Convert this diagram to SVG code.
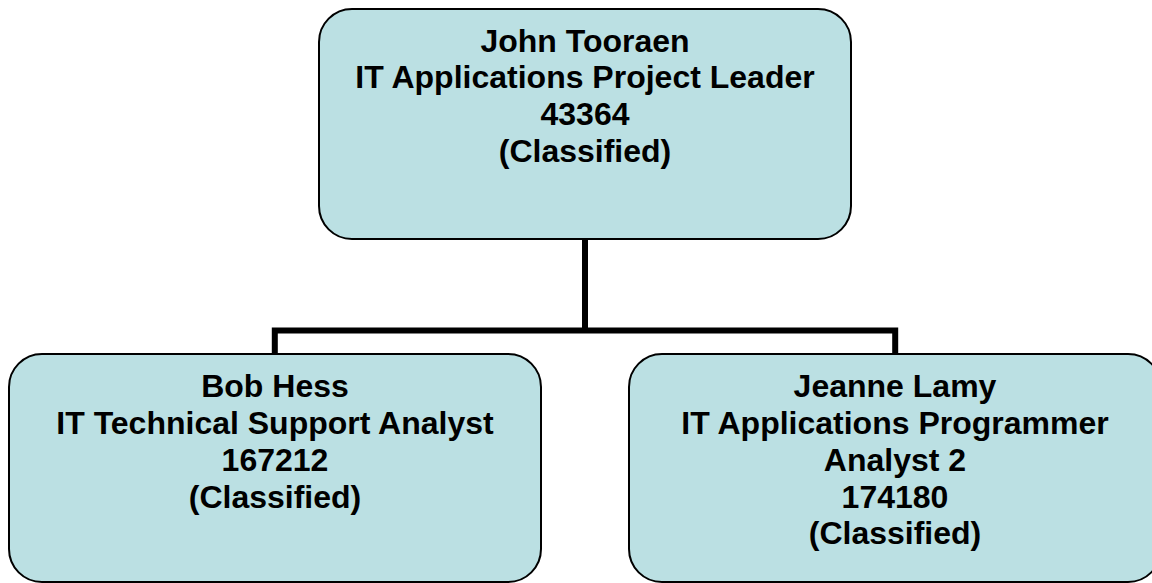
<svg xmlns="http://www.w3.org/2000/svg" width="1152" height="583" viewBox="0 0 1152 583">
<style>
.box{fill:#BBE0E3;stroke:#000;stroke-width:2}
.t{font-family:"Liberation Sans",Arial,sans-serif;font-weight:bold;font-size:32px;fill:#000;text-anchor:middle}
.c{fill:none;stroke:#000;stroke-width:6;stroke-linejoin:miter;stroke-linecap:butt}
</style>
<rect width="1152" height="583" fill="#fff"/>
<g id="connectors">
<path class="c" d="M585,239 V330.5"/>
<path class="c" d="M274.8,354 V330.5 H895.2 V354"/>
</g>
<g id="node-john">
<rect class="box" x="319" y="9" width="532" height="230" rx="33" ry="33"/>
<text class="t" x="585" y="51.5">John Tooraen</text>
<text class="t" x="585" y="88.3">IT Applications Project Leader</text>
<text class="t" x="585" y="125.1">43364</text>
<text class="t" x="585" y="161.9">(Classified)</text>
</g>
<g id="node-bob">
<rect class="box" x="9" y="354" width="532" height="228" rx="33" ry="33"/>
<text class="t" x="275" y="397.3">Bob Hess</text>
<text class="t" x="275" y="434">IT Technical Support Analyst</text>
<text class="t" x="275" y="470.8">167212</text>
<text class="t" x="275" y="507.6">(Classified)</text>
</g>
<g id="node-jeanne">
<rect class="box" x="629" y="354" width="532" height="228" rx="33" ry="33"/>
<text class="t" x="895" y="397.3">Jeanne Lamy</text>
<text class="t" x="895" y="434">IT Applications Programmer</text>
<text class="t" x="895" y="470.8">Analyst 2</text>
<text class="t" x="895" y="507.6">174180</text>
<text class="t" x="895" y="544.4">(Classified)</text>
</g>
</svg>
